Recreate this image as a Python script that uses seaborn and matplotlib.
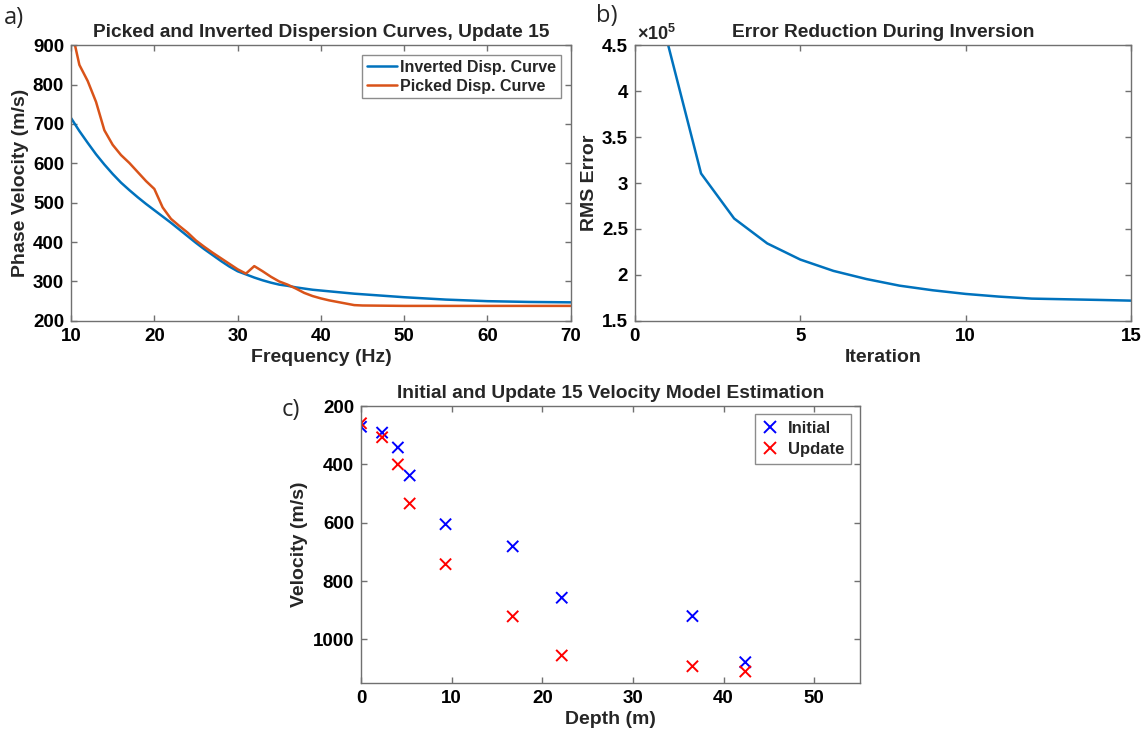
import matplotlib
matplotlib.use("Agg")
import matplotlib.pyplot as plt
import matplotlib.ticker as mticker
import seaborn as sns
import pandas as pd

# ---------------- data ----------------
# Panel a: dispersion curves
freq_inverted = [10, 11, 12, 13, 14, 15, 16, 17, 18, 19, 20, 21, 22, 23, 24, 25, 26, 27, 28, 29,
                 30, 31, 32, 33, 34, 35, 36, 37, 38, 39, 40, 42, 44, 46, 48, 50, 55, 60, 65, 70]
vel_inverted = [715, 682, 652, 623, 597, 573, 551, 532, 514, 497, 481, 465, 449, 432, 415, 398, 382, 367, 352, 338,
                326, 318, 310, 303, 297, 292, 289, 285, 282, 279, 277, 273, 269, 266, 263, 260, 254, 250, 248, 247]
freq_picked = [10, 11, 12, 13, 14, 15, 16, 17, 18, 19, 20, 21, 22, 23, 24, 25, 26, 27, 28, 29,
               30, 31, 32, 33, 34, 35, 36, 37, 38, 39, 40, 41, 42, 43, 44, 45, 50, 55, 60, 65, 70]
vel_picked = [945, 850, 809, 756, 684, 647, 621, 601, 578, 555, 535, 488, 459, 441, 424, 404, 388, 373, 359, 345,
              331, 320, 339, 326, 312, 300, 292, 282, 271, 263, 257, 252, 248, 244, 240, 239, 238, 238, 238, 238, 238]

# Panel b: RMS error per iteration
iterations = [1, 2, 3, 4, 5, 6, 7, 8, 9, 10, 11, 12, 13, 14, 15]
rms_error = [451000, 310400, 261400, 234300, 216700, 204400, 195500, 188300, 183300, 179300,
             176400, 174200, 173500, 172800, 172000]

# Panel c: velocity model
depth = [0, 2.33, 4.07, 5.37, 9.33, 16.74, 22.15, 36.57, 42.4]
vel_initial = [271, 291, 342, 438, 605, 681, 857, 920, 1078]
vel_update = [259, 307, 400, 534, 742, 921, 1055, 1092, 1110]

# ---------------- style ----------------
sns.set_style("ticks")
plt.rcParams["font.family"] = ["Liberation Sans", "DejaVu Sans"]
plt.rcParams["font.weight"] = "bold"
plt.rcParams["axes.labelweight"] = "bold"
plt.rcParams["axes.titleweight"] = "bold"
plt.rcParams["mathtext.fontset"] = "custom"
plt.rcParams["mathtext.rm"] = "Liberation Sans"
plt.rcParams["mathtext.default"] = "rm"

BLUE = "#0072BD"
ORANGE = "#D95319"
SPINE = "#707070"
TICK_FS = 13.5
LABEL_FS = 14
TITLE_FS = 13.8

fig = plt.figure(figsize=(11.46, 7.41), dpi=100)
ax_a = fig.add_axes([0.062, 0.567, 0.436, 0.372])
ax_b = fig.add_axes([0.554, 0.567, 0.433, 0.372])
ax_c = fig.add_axes([0.315, 0.078, 0.435, 0.374])


def matlab_axes(ax):
    for s in ax.spines.values():
        s.set_color(SPINE)
        s.set_linewidth(1.0)
        s.set_visible(True)
    ax.tick_params(direction="in", top=True, right=True, length=4, width=1,
                   color=SPINE, labelsize=TICK_FS, pad=5, labelcolor="black")
    for lab in ax.get_xticklabels() + ax.get_yticklabels():
        lab.set_fontweight("bold")


# ---- panel a ----
df_inv = pd.DataFrame({"f": freq_inverted, "v": vel_inverted})
df_pick = pd.DataFrame({"f": freq_picked, "v": vel_picked})
sns.lineplot(data=df_inv, x="f", y="v", ax=ax_a, color=BLUE, lw=1.8, label="Inverted Disp. Curve")
sns.lineplot(data=df_pick, x="f", y="v", ax=ax_a, color=ORANGE, lw=1.8, label="Picked Disp. Curve")
ax_a.set_xlim(10, 70)
ax_a.set_ylim(200, 900)
ax_a.set_xticks(range(10, 71, 10))
ax_a.set_yticks(range(200, 901, 100))
ax_a.set_xlabel("Frequency (Hz)", fontsize=LABEL_FS, labelpad=3)
ax_a.set_ylabel("Phase Velocity (m/s)", fontsize=LABEL_FS, labelpad=3)
ax_a.set_title("Picked and Inverted Dispersion Curves, Update 15", fontsize=TITLE_FS, pad=6)
leg = ax_a.legend(loc="upper right", fontsize=11.5, frameon=True, fancybox=False,
                  handlelength=1.9, handletextpad=0.2, borderpad=0.3, labelspacing=0.25,
                  borderaxespad=0.6)
leg.get_frame().set_edgecolor(SPINE)
leg.get_frame().set_linewidth(1.0)
for t in leg.get_texts():
    t.set_fontweight("bold")
matlab_axes(ax_a)

# ---- panel b ----
df_err = pd.DataFrame({"it": iterations, "rms": rms_error})
sns.lineplot(data=df_err, x="it", y="rms", ax=ax_b, color=BLUE, lw=1.8)
ax_b.set_xlim(0, 15)
ax_b.set_ylim(1.5e5, 4.5e5)
ax_b.set_xticks([0, 5, 10, 15])
ax_b.set_yticks([1.5e5, 2e5, 2.5e5, 3e5, 3.5e5, 4e5, 4.5e5])
ax_b.yaxis.set_major_formatter(mticker.FuncFormatter(lambda v, p: f"{v / 1e5:g}"))
ax_b.set_xlabel("Iteration", fontsize=LABEL_FS, labelpad=3)
ax_b.set_ylabel("RMS Error", fontsize=LABEL_FS, labelpad=3)
ax_b.set_title("Error Reduction During Inversion", fontsize=TITLE_FS, pad=6)
ax_b.text(0.005, 1.003, r"$\times10^{5}$", transform=ax_b.transAxes, fontsize=13,
          fontweight="normal", ha="left", va="bottom")
matlab_axes(ax_b)

# ---- panel c ----
df_c = pd.DataFrame({
    "depth": depth + depth,
    "vel": vel_initial + vel_update,
    "model": ["Initial"] * len(depth) + ["Update"] * len(depth),
})
sns.scatterplot(data=df_c, x="depth", y="vel", hue="model", palette={"Initial": "blue", "Update": "red"},
                marker="x", s=65, linewidth=1.4, ax=ax_c)
ax_c.set_xlim(0, 55)
ax_c.set_ylim(1150, 200)
ax_c.set_xticks(range(0, 51, 10))
ax_c.set_yticks(range(200, 1001, 200))
ax_c.set_xlabel("Depth (m)", fontsize=LABEL_FS, labelpad=3)
ax_c.set_ylabel("Velocity (m/s)", fontsize=LABEL_FS, labelpad=3)
ax_c.set_title("Initial and Update 15 Velocity Model Estimation", fontsize=TITLE_FS, pad=6)
leg_c = ax_c.legend(loc="upper right", fontsize=12, frameon=True, fancybox=False, title=None,
                    handlelength=1.0, handletextpad=0.6, borderpad=0.4, labelspacing=0.35,
                    borderaxespad=0.5)
leg_c.get_frame().set_edgecolor(SPINE)
leg_c.get_frame().set_linewidth(1.0)
for t in leg_c.get_texts():
    t.set_fontweight("bold")
matlab_axes(ax_c)

# panel letters
fig.text(4 / 1146, 1 - 18 / 741, "a)", fontsize=17, fontweight="normal", family="Open Sans",
         ha="left", va="center")
fig.text(596 / 1146, 1 - 16 / 741, "b)", fontsize=17, fontweight="normal", family="Open Sans",
         ha="left", va="center")
fig.text(282 / 1146, 1 - 410 / 741, "c)", fontsize=17, fontweight="normal", family="Open Sans",
         ha="left", va="center")

fig.savefig("out.png", dpi=100, facecolor="white")
